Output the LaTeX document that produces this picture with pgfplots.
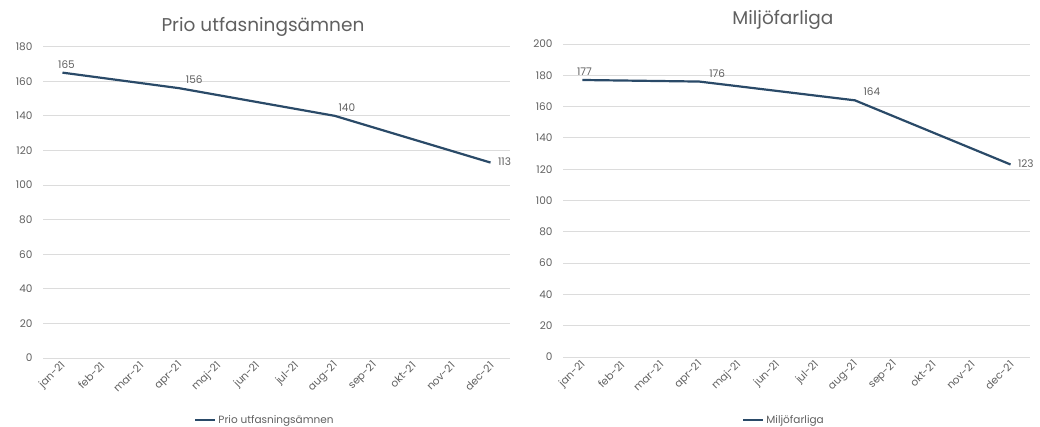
\documentclass[border=0pt]{standalone}
\usepackage{fontspec}
\setmainfont{Poppins}
\usepackage{pgfplots}
\pgfplotsset{compat=1.18}
\definecolor{linec}{HTML}{2A4A68}
\definecolor{txt}{HTML}{606060}
\definecolor{gridc}{HTML}{DCDCDC}

\pgfplotsset{mystyle/.style={
  scale only axis, width=467pt,
  xmin=-0.5, xmax=11.5, ymin=0,
  /pgf/number format/assume math mode=true,
  axis line style={draw=none},
  tick style={draw=none},
  ymajorgrids, grid style={gridc, line width=0.8pt},
  xtick={0,...,11},
  xticklabels={jan-21,feb-21,mar-21,apr-21,maj-21,jun-21,jul-21,aug-21,sep-21,okt-21,nov-21,dec-21},
  xticklabel style={font=\fontsize{10.5}{12}\selectfont, text=txt, yshift=-5pt, xshift=2pt, rotate=45, anchor=east, inner sep=1pt},
  yticklabel style={font=\fontsize{10.5}{12}\selectfont, text=txt, xshift=-7pt},
  title style={font=\fontsize{18.5}{22}\selectfont, text=txt, anchor=center},
  legend style={draw=none, fill=none, font=\fontsize{10.5}{12}\selectfont, text=txt, anchor=center},
  legend image code/.code={\draw[#1, line width=2.4pt] (0pt,0pt) -- (20pt,0pt);},
}}
\pgfplotsset{lab/.style n args={2}{draw=none, mark=none, forget plot, nodes near coords,
  nodes near coords style={font=\fontsize{10.5}{12}\selectfont, text=txt, anchor=#1, xshift=#2, yshift=1pt}}}

\begin{document}
\begin{tikzpicture}
\path[use as bounding box] (0,0) rectangle (1040pt,427pt);
\begin{axis}[mystyle, at={(43pt,69pt)}, anchor=south west, height=311.3pt,
  ymax=180, ytick={0,20,...,180},
  title={Prio utfasningsämnen}, title style={at={(0.471,1)}, yshift=13.7pt},
  legend style={at={(0.475,-0.199)}}]
\addplot[linec, line width=2.2pt, line join=round, mark=none] coordinates {(0,165) (3,156) (7,140) (11,113)};
\addlegendentry{Prio utfasningsämnen}
\addplot[lab={south}{4pt}] coordinates {(0,165)};
\addplot[lab={south}{15pt}] coordinates {(3,156)};
\addplot[lab={south}{12pt}] coordinates {(7,140)};
\addplot[lab={west}{4pt}] coordinates {(11,113)};
\end{axis}
\begin{axis}[mystyle, at={(563pt,70pt)}, anchor=south west, height=313pt,
  ymax=200, ytick={0,20,...,200},
  title={Miljöfarliga}, title style={at={(0.471,1)}, yshift=18pt},
  legend style={at={(0.473,-0.201)}}]
\addplot[linec, line width=2.2pt, line join=round, mark=none] coordinates {(0,177) (3,176) (7,164) (11,123)};
\addlegendentry{Miljöfarliga}
\addplot[lab={south}{2pt}] coordinates {(0,177)};
\addplot[lab={south}{18pt}] coordinates {(3,176)};
\addplot[lab={south}{17pt}] coordinates {(7,164)};
\addplot[lab={west}{4pt}] coordinates {(11,123)};
\end{axis}
\end{tikzpicture}
\end{document}
